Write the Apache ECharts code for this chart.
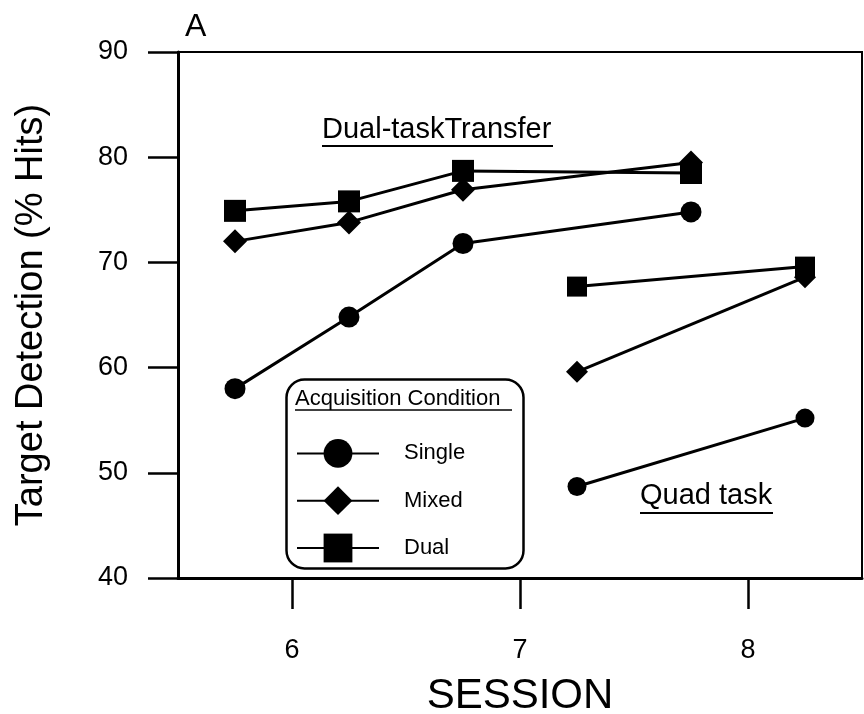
<!DOCTYPE html>
<html>
<head>
<meta charset="utf-8">
<script src="https://cdn.jsdelivr.net/npm/echarts@6/dist/echarts.min.js"></script>
<style>
html,body{margin:0;padding:0;background:#fff;}
#c{width:864px;height:714px;}
</style>
</head>
<body>
<div id="c"></div>
<script>
// Sessions (x) for each block
const transferSessions = [5.75, 6.25, 6.75, 7.75];
const quadSessions = [7.25, 8.25];
// Dual-task transfer values (% hits)
const transferSingle = [58, 64.8, 71.8, 74.8];
const transferMixed = [72, 73.8, 76.9, 79.5];
const transferDual = [74.9, 75.8, 78.7, 78.5];
// Quad task values (% hits)
const quadSingle = [48.7, 55.2];
const quadMixed = [59.6, 68.6];
const quadDual = [67.7, 69.6];
// Axis ticks
const xTicks = [6, 7, 8];
const yMin = 40, yMax = 90, yStep = 10;

const FONT = "'Liberation Sans', Arial, sans-serif";

function pairs(xs, ys) { return xs.map((x, i) => [x, ys[i]]); }

function mk(name, xs, ys, symbol, size) {
  return {
    name: name, type: 'line', data: pairs(xs, ys),
    symbol: symbol, symbolSize: size, showSymbol: true,
    lineStyle: { color: '#000', width: 3 },
    itemStyle: { color: '#000', borderWidth: 0 },
    emphasis: { disabled: true }, animation: false, z: 3
  };
}

const chart = echarts.init(document.getElementById('c'), null, { renderer: 'canvas' });
chart.setOption({
  backgroundColor: '#fff',
  animation: false,
  grid: { left: 178, right: 2, top: 52, bottom: 136, containLabel: false, outerBoundsMode: 'none', show: true, borderColor: '#000', borderWidth: 2, backgroundColor: 'transparent' },
  xAxis: {
    type: 'value', min: 5.5, max: 8.5,
    name: 'SESSION', nameLocation: 'middle', nameGap: 97,
    nameTextStyle: { fontFamily: FONT, fontSize: 42, color: '#000' },
    axisLine: { lineStyle: { color: '#000', width: 3 } },
    axisTick: { show: true, inside: false, length: 31, customValues: xTicks, lineStyle: { color: '#000', width: 2.5 } },
    axisLabel: { customValues: xTicks, margin: 59, fontFamily: FONT, fontSize: 27, color: '#000' },
    splitLine: { show: false }
  },
  yAxis: {
    type: 'value', min: yMin, max: yMax, interval: yStep,
    name: 'Target Detection (% Hits)', nameLocation: 'middle', nameGap: 127,
    nameTextStyle: { fontFamily: FONT, fontSize: 38, color: '#000' },
    axisLine: { lineStyle: { color: '#000', width: 3 } },
    axisTick: { show: true, inside: false, length: 30, lineStyle: { color: '#000', width: 2.5 } },
    axisLabel: { margin: 50, fontFamily: FONT, fontSize: 27, color: '#000' },
    splitLine: { show: false }
  },
  legend: {
    data: ['Single', 'Mixed', 'Dual'],
    orient: 'vertical', left: 291, top: 434,
    itemWidth: 82, itemHeight: 36, itemGap: 18.5,
    selectedMode: false,
    textStyle: { fontFamily: FONT, fontSize: 22, color: '#000', padding: [0, 0, 0, 20] }
  },
  graphic: [
    { type: 'rect', left: 284, top: 377, shape: { width: 237, height: 189, r: 18 }, style: { fill: 'none', stroke: '#000', lineWidth: 2.5 }, z: 1 },
    { type: 'text', left: 295, top: 388, style: { text: 'Acquisition Condition', fontFamily: FONT, fontSize: 22, fill: '#000' }, z: 5 },
    { type: 'line', shape: { x1: 295, y1: 410, x2: 512, y2: 410 }, style: { stroke: '#000', lineWidth: 1.5 }, z: 5 },
    { type: 'text', left: 322, top: 115, style: { text: 'Dual-taskTransfer', fontFamily: FONT, fontSize: 29, fill: '#000' }, z: 5 },
    { type: 'line', shape: { x1: 322, y1: 146, x2: 553, y2: 146 }, style: { stroke: '#000', lineWidth: 2 }, z: 5 },
    { type: 'text', left: 640, top: 481, style: { text: 'Quad task', fontFamily: FONT, fontSize: 29, fill: '#000' }, z: 5 },
    { type: 'line', shape: { x1: 640, y1: 513, x2: 773, y2: 513 }, style: { stroke: '#000', lineWidth: 2 }, z: 5 },
    { type: 'text', left: 185, top: 11, style: { text: 'A', fontFamily: FONT, fontSize: 32, fill: '#000' }, z: 5 }
  ],
  series: [
    mk('Single', transferSessions, transferSingle, 'circle', 21),
    mk('Mixed', transferSessions, transferMixed, 'diamond', 24),
    mk('Dual', transferSessions, transferDual, 'rect', 22),
    mk('Single', quadSessions, quadSingle, 'circle', 19),
    mk('Mixed', quadSessions, quadMixed, 'diamond', 22),
    mk('Dual', quadSessions, quadDual, 'rect', 20)
  ]
});
</script>
</body>
</html>
